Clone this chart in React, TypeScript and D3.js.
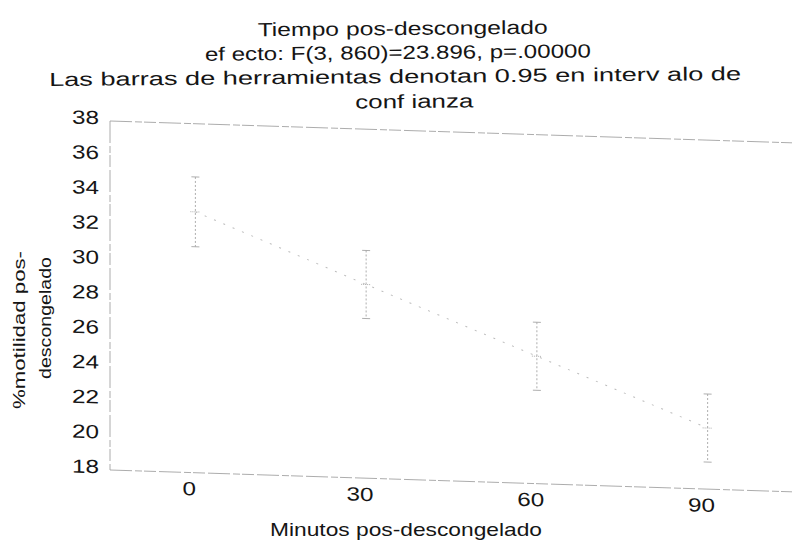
import React from "react";
import * as d3 from "d3";

// ---- data ----
const categories = ["0", "30", "60", "90"];
const means = [32.95, 29.1, 25.3, 21.5];
const lower = [30.95, 27.15, 23.35, 19.55];
const upper = [34.95, 31.05, 27.25, 23.45];
const yTicks = [18, 20, 22, 24, 26, 28, 30, 32, 34, 36, 38];

const titleLines = [
  "Tiempo pos-descongelado",
  "ef ecto: F(3, 860)=23.896, p=.00000",
  "Las barras de herramientas denotan 0.95 en interv alo de",
  "conf ianza",
];
const xTitle = "Minutos pos-descongelado";
const yTitleLines = ["%motilidad pos-", "descongelado"];

const W = 792;
const H = 551;
const FONT = "'Liberation Sans', Arial, sans-serif";

export default function App() {
  const left = 110;
  const right = 793;
  const top = 121;
  const bottom = 470;

  const x = d3.scaleBand<string>().domain(categories).range([left, right]).padding(0);
  const cx = (c: string) => (x(c) as number) + x.bandwidth() / 2;
  const y = d3.scaleLinear().domain([18, 38]).range([bottom, top]);

  const line = d3
    .line<number>()
    .x((_, i) => cx(categories[i]))
    .y((d) => y(d));

  // scan shear: right side lower than left
  const k = 0.032;
  const shear = `matrix(1,${k},0,1,0,${-k * left})`;

  const titleY = [35, 59, 83, 108];
  const titleX = [403, 398, 395, 414];
  const titleLen = [290, 386, 692, 118];

  return (
    <svg width={W} height={H} style={{ display: "block", position: "absolute", left: 0, top: 0, background: "#fff" }}>
      <rect x={0} y={0} width={W} height={H} fill="#fff" />
      {/* titles */}
      <g fontFamily={FONT} fontSize={19} fill="#151515" transform="rotate(-0.5 400 70)">
        {titleLines.map((t, i) => (
          <text key={i} x={titleX[i]} y={titleY[i]} textAnchor="middle" textLength={titleLen[i]} lengthAdjust="spacingAndGlyphs">
            {t}
          </text>
        ))}
      </g>

      <g transform={shear}>
        {/* frame */}
        <g stroke="#a3a3a3" strokeWidth={0.9} strokeDasharray="22 3 7 2 12 3" fill="none">
          <line x1={left} x2={right} y1={top} y2={top} />
          <line x1={left} x2={right} y1={bottom} y2={bottom} />
          <line x1={left} x2={left} y1={top} y2={bottom} />
        </g>

        {/* mean line */}
        <path d={line(means) || ""} fill="none" stroke="#bdbdbd" strokeWidth={1} strokeDasharray="2 8" />

        {/* error bars */}
        <g stroke="#a6a6a6" strokeWidth={0.9} fill="none">
          {categories.map((c, i) => (
            <g key={c}>
              <line x1={cx(c)} x2={cx(c)} y1={y(upper[i])} y2={y(lower[i])} strokeDasharray="2 2" />
              <line x1={cx(c) - 4} x2={cx(c) + 4} y1={y(upper[i])} y2={y(upper[i])} />
              <line x1={cx(c) - 4} x2={cx(c) + 4} y1={y(lower[i])} y2={y(lower[i])} />
              <line x1={cx(c) - 5} x2={cx(c) + 5} y1={y(means[i])} y2={y(means[i])} strokeDasharray="1 1" />
            </g>
          ))}
        </g>

        {/* y tick labels */}
        <g fontFamily={FONT} fontSize={19} fill="#151515">
          {yTicks.map((t) => (
            <text key={t} x={99} y={y(t) - 3} dy="0.35em" textAnchor="end" textLength={27} lengthAdjust="spacingAndGlyphs">
              {t}
            </text>
          ))}
        </g>

        {/* x tick labels */}
        <g fontFamily={FONT} fontSize={19} fill="#151515">
          {categories.map((c) => (
            <text key={c} x={cx(c) - 6} y={bottom + 16} dy="0.35em" textAnchor="middle" textLength={c.length * 13.5} lengthAdjust="spacingAndGlyphs">
              {c}
            </text>
          ))}
        </g>
      </g>

      {/* x title */}
      <text x={406} y={536} fontFamily={FONT} fontSize={19} fill="#151515" textAnchor="middle" textLength={272} lengthAdjust="spacingAndGlyphs">
        {xTitle}
      </text>

      {/* y title */}
      <g fontFamily={FONT} fontSize={17} fill="#151515">
        <text transform="translate(25,330) rotate(-90)" textAnchor="middle" textLength={158} lengthAdjust="spacingAndGlyphs">
          {yTitleLines[0]}
        </text>
        <text transform="translate(51,318) rotate(-90)" textAnchor="middle" textLength={122} lengthAdjust="spacingAndGlyphs">
          {yTitleLines[1]}
        </text>
      </g>
    </svg>
  );
}
